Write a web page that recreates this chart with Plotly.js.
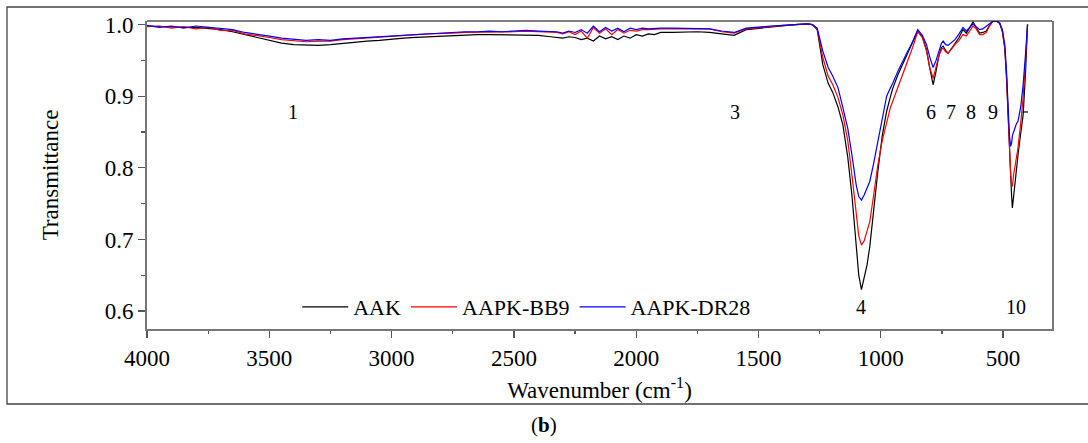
<!DOCTYPE html>
<html>
<head>
<meta charset="utf-8">
<script src="https://cdn.plot.ly/plotly-3.0.1.min.js"></script>
<style>html,body{margin:0;padding:0;background:#fff;}#chart{width:1088px;height:443px;}</style>
</head>
<body>
<div id="chart"></div>
<script>
// Wavenumber (cm-1)
const wavenumber = [
  4000,3950,3900,3850,3800,3750,3700,3650,3600,3550,3500,3450,3400,3350,3300,3250,3200,3150,3100,3050,
  3000,2950,2900,2850,2800,2750,2700,2650,2600,2550,2500,2450,2400,2350,
  2325,2300,2275,2250,2225,2200,2175,2150,2125,2100,2075,2050,2025,2000,1975,1950,1925,1900,
  1850,1800,1750,1700,1650,1600,1550,1500,1450,1400,1350,
  1300,1280,1260,1237,1215,1196,1175,1155,1135,1118,1100,1090,1079,1068,1056,1045,1030,1012,994,976,
  960,951,930,910,894,870,849,830,813,800,786,774,762,752,745,735,725,710,697,680,
  664,650,636,623,610,596,583,569,555,541,527,514,503,493,486,480,474,469,465,462,
  457,452,445,439,428,418,408,400
];
const aak = [
  0.998,0.997,0.997,0.996,0.996,0.995,0.993,0.990,0.986,0.982,0.978,0.974,0.972,0.971,0.971,0.972,0.974,0.976,0.977,0.978,
  0.980,0.981,0.982,0.983,0.984,0.985,0.985,0.986,0.986,0.986,0.985,0.986,0.985,0.983,
  0.982,0.981,0.983,0.982,0.979,0.981,0.977,0.984,0.980,0.983,0.979,0.984,0.981,0.986,0.984,0.987,0.986,0.989,
  0.989,0.990,0.990,0.989,0.987,0.985,0.993,0.995,0.997,0.999,1.000,
  1.001,1.000,0.993,0.944,0.918,0.905,0.885,0.860,0.815,0.762,0.690,0.650,0.630,0.645,0.665,0.690,0.740,0.795,0.845,0.879,
  0.900,0.911,0.930,0.945,0.956,0.975,0.991,0.983,0.965,0.940,0.916,0.935,0.957,0.968,0.970,0.964,0.960,0.967,0.974,0.982,
  0.993,0.988,0.996,1.004,0.996,0.988,0.989,0.991,0.999,1.005,1.005,1.002,0.990,0.967,0.925,0.874,0.820,0.785,0.760,0.744,
  0.760,0.781,0.800,0.818,0.848,0.874,0.935,1.000
];
const aapkBB9 = [
  0.997,0.998,0.995,0.997,0.994,0.996,0.992,0.992,0.987,0.985,0.982,0.979,0.977,0.976,0.977,0.977,0.979,0.980,0.981,0.983,
  0.984,0.985,0.986,0.987,0.987,0.988,0.989,0.989,0.990,0.990,0.990,0.991,0.990,0.989,
  0.989,0.987,0.990,0.986,0.991,0.981,0.996,0.988,0.994,0.986,0.993,0.988,0.992,0.991,0.993,0.993,0.994,0.994,
  0.994,0.994,0.995,0.994,0.990,0.988,0.994,0.996,0.998,0.999,1.000,
  1.001,1.000,0.994,0.954,0.928,0.916,0.898,0.874,0.838,0.790,0.735,0.705,0.692,0.698,0.712,0.725,0.760,0.804,0.838,0.865,
  0.885,0.893,0.912,0.932,0.944,0.968,0.990,0.982,0.963,0.940,0.925,0.940,0.957,0.965,0.967,0.962,0.960,0.966,0.972,0.978,
  0.986,0.984,0.992,0.998,0.994,0.986,0.986,0.989,0.998,1.005,1.005,1.002,0.992,0.967,0.930,0.874,0.815,0.790,0.776,0.774,
  0.790,0.800,0.812,0.828,0.862,0.898,0.950,1.000
];
const aapkDR28 = [
  0.999,0.996,0.998,0.995,0.998,0.996,0.994,0.993,0.989,0.987,0.984,0.981,0.979,0.978,0.979,0.978,0.980,0.981,0.982,0.984,
  0.985,0.986,0.987,0.987,0.988,0.989,0.990,0.990,0.991,0.990,0.991,0.992,0.991,0.990,
  0.990,0.988,0.991,0.989,0.993,0.988,0.998,0.990,0.996,0.991,0.995,0.990,0.995,0.993,0.995,0.994,0.995,0.995,
  0.995,0.995,0.995,0.994,0.991,0.989,0.995,0.997,0.998,0.999,1.000,
  1.001,1.000,0.995,0.963,0.940,0.928,0.912,0.884,0.855,0.818,0.775,0.760,0.755,0.762,0.772,0.781,0.805,0.837,0.870,0.900,
  0.912,0.918,0.935,0.950,0.960,0.976,0.993,0.985,0.972,0.955,0.940,0.950,0.965,0.974,0.977,0.972,0.971,0.975,0.979,0.987,
  0.996,0.991,0.997,1.001,0.997,0.993,0.994,0.998,1.002,1.005,1.005,1.002,0.993,0.972,0.935,0.884,0.845,0.830,0.835,0.845,
  0.852,0.855,0.862,0.865,0.885,0.916,0.960,1.000
];
const seriesNames = ["AAK", "AAPK-BB9", "AAPK-DR28"];
const seriesColors = ["#000000", "#ff0000", "#0000ff"];
const xTicks = [4000, 3500, 3000, 2500, 2000, 1500, 1000, 500];
const yTicks = [0.6, 0.7, 0.8, 0.9, 1.0];
const yTickText = ["0.6", "0.7", "0.8", "0.9", "1.0"];
const bandLabels = ["1", "3", "6", "7", "8", "9", "4", "10"];
const bandX = [3403, 1597, 796, 714, 632, 542, 1082, 449];
const bandY = [0.878, 0.878, 0.878, 0.878, 0.878, 0.878, 0.606, 0.606];

const FONT = '"Liberation Serif", "Times New Roman", serif';
const ys = [aak, aapkBB9, aapkDR28];
const traces = ys.map((y, i) => ({
  type: "scatter", mode: "lines", x: wavenumber, y: y,
  name: seriesNames[i], line: {color: seriesColors[i], width: 1.2}
}));

const annotations = bandLabels.map((t, i) => ({
  x: bandX[i], y: bandY[i], xref: "x", yref: "y", text: t, showarrow: false,
  xanchor: "center", yanchor: "middle",
  font: {family: FONT, size: 20, color: "#000"}
}));
annotations.push({
  x: (544 - 147) / 905, y: (329 - 425) / 308, xref: "paper", yref: "paper",
  xanchor: "center", yanchor: "middle",
  text: "(<b>b</b>)", showarrow: false,
  font: {family: FONT, size: 21, color: "#000"}
});

const layout = {
  width: 1088, height: 443,
  margin: {l: 147, r: 36, t: 21, b: 114},
  paper_bgcolor: "#fff", plot_bgcolor: "#fff",
  font: {family: FONT, color: "#000", size: 22},
  showlegend: true,
  legend: {
    orientation: "h", x: 0.166, y: 0.0714, xanchor: "left", yanchor: "middle",
    bgcolor: "rgba(0,0,0,0)", font: {family: FONT, size: 22, color: "#000"},
    itemwidth: 46, tracegroupgap: 0
  },
  xaxis: {
    range: [4000, 300], tickmode: "array", tickvals: xTicks,
    ticks: "outside", ticklen: 7, tickwidth: 1.3, tickcolor: "#555",
    minor: {dtick: 250, ticks: "outside", ticklen: 3, tickwidth: 1.2, tickcolor: "#555"},
    showgrid: false, zeroline: false,
    showline: true, linecolor: "#777", linewidth: 2, mirror: false,
    tickfont: {family: FONT, size: 23, color: "#000"},
    title: {text: "Wavenumber (cm<sup>-1</sup>)", font: {family: FONT, size: 23, color: "#000"}, standoff: 12}
  },
  yaxis: {
    range: [0.575, 1.005], tickmode: "array", tickvals: yTicks, ticktext: yTickText,
    ticks: "outside", ticklen: 7, tickwidth: 1.3, tickcolor: "#555",
    minor: {dtick: 0.05, ticks: "outside", ticklen: 4, tickwidth: 1.2, tickcolor: "#555"},
    showgrid: false, zeroline: false,
    showline: true, linecolor: "#777", linewidth: 2, mirror: true,
    tickfont: {family: FONT, size: 23, color: "#000"},
    title: {text: "Transmittance", font: {family: FONT, size: 23, color: "#000"}, standoff: 40}
  },
  annotations: annotations,
  shapes: [
    {type: "line", xref: "paper", yref: "paper", x0: 0, x1: 1, y0: 1, y1: 1, line: {color: "#000", width: 1}},
    {type: "line", xref: "x", yref: "y", x0: 420, x1: 398, y0: 0.878, y1: 0.878, line: {color: "#000", width: 1.2}},
    {type: "rect", xref: "paper", yref: "paper", x0: -0.1547, x1: 1.045, y0: -0.2435, y1: 1.0455,
     line: {color: "#444", width: 1.3}, fillcolor: "rgba(0,0,0,0)"}
  ]
};

Plotly.newPlot("chart", traces, layout, {displayModeBar: false, staticPlot: true});
</script>
</body>
</html>
